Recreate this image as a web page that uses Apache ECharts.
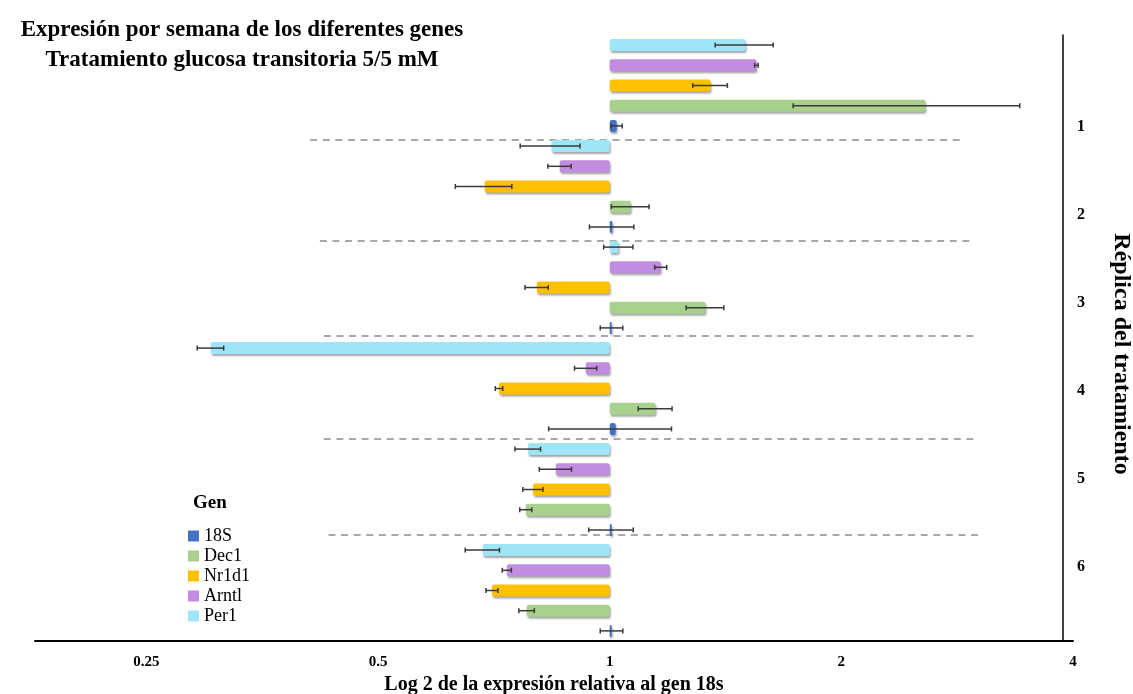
<!DOCTYPE html>
<html>
<head>
<meta charset="utf-8">
<script src="https://cdn.jsdelivr.net/npm/echarts@6/dist/echarts.min.js"></script>
<style>html,body{margin:0;padding:0;background:#fff}#c{width:1133px;height:694px}</style>
</head>
<body>
<div id="c"></div>
<script>
// ---------- data ----------
const replicates = ['1', '2', '3', '4', '5', '6'];
const genes = ['18S', 'Dec1', 'Nr1d1', 'Arntl', 'Per1'];          // legend order
const rowOrder = ['Per1', 'Arntl', 'Nr1d1', 'Dec1', '18S'];       // top to bottom inside a replicate
const geneColors = ['#4472C4', '#A9D18E', '#FFC000', '#C28CE0', '#9EE5F9'];

const s18 = [1.021, 1.008, 1.006, 1.018, 1.006, 1.006];
const s18Sd = [0.017, 0.067, 0.034, 0.185, 0.067, 0.034];
const dec1 = [2.571, 1.065, 1.332, 1.147, 0.778, 0.780];
const dec1Sd = [0.84, 0.06, 0.075, 0.058, 0.014, 0.018];
const nr1d1 = [1.352, 0.688, 0.804, 0.718, 0.795, 0.703];
const nr1d1Sd = [0.07, 0.058, 0.028, 0.008, 0.024, 0.0125];
const arntl = [1.551, 0.861, 1.165, 0.931, 0.851, 0.735];
const arntlSd = [0.008, 0.030, 0.021, 0.031, 0.041, 0.010];
const per1 = [1.501, 0.840, 1.027, 0.303, 0.783, 0.684];
const per1Sd = [0.13, 0.075, 0.045, 0.012, 0.030, 0.035];

const geneValues = [s18, dec1, nr1d1, arntl, per1];
const geneSds = [s18Sd, dec1Sd, nr1d1Sd, arntlSd, per1Sd];

const xTicks = [0.25, 0.5, 1, 2, 4];
// dashed separators between replicates: [x start, x end, row position]
const separators = [
  [0.408, 2.862, 4.70],
  [0.420, 2.949, 9.70],
  [0.425, 2.985, 14.40],
  [0.425, 2.985, 19.50],
  [0.431, 3.020, 24.25]
];

const titleText1 = 'Expresión por semana de los diferentes genes';
const titleText2 = 'Tratamiento glucosa transitoria 5/5 mM';
const xName = 'Log 2 de la expresión relativa al gen 18s';
const yName = 'Réplica del tratamiento';
const legendTitle = 'Gen';

// ---------- build ----------
const rows = [];
replicates.forEach(r => rowOrder.forEach(g => rows.push(r + '-' + g)));

const SERIF = 'Liberation Serif';

function barRender(params, api) {
  const val = api.value(0), idx = api.value(1), sd = api.value(2);
  const p0 = api.coord([1, idx]);
  const p1 = api.coord([val, idx]);
  const h = 12;
  const x0 = Math.min(p0[0], p1[0]);
  const w = Math.max(Math.abs(p1[0] - p0[0]), 1.5);
  const lo = api.coord([val - sd, idx]);
  const hi = api.coord([val + sd, idx]);
  const y = p1[1];
  const ec = '#3a3a3a';
  return {
    type: 'group',
    children: [
      {
        type: 'rect',
        shape: { x: x0, y: y - h / 2, width: w, height: h, r: 2 },
        style: {
          fill: api.visual('color'),
          shadowBlur: 2, shadowOffsetX: 1, shadowOffsetY: 2,
          shadowColor: 'rgba(0,0,0,0.35)'
        }
      },
      { type: 'line', shape: { x1: lo[0], y1: y, x2: hi[0], y2: y }, style: { stroke: ec, lineWidth: 1.5 } },
      { type: 'line', shape: { x1: lo[0], y1: y - 2.5, x2: lo[0], y2: y + 2.5 }, style: { stroke: ec, lineWidth: 1.5 } },
      { type: 'line', shape: { x1: hi[0], y1: y - 2.5, x2: hi[0], y2: y + 2.5 }, style: { stroke: ec, lineWidth: 1.5 } }
    ]
  };
}

const series = genes.map((g, gi) => ({
  name: g,
  type: 'custom',
  xAxisIndex: 0,
  yAxisIndex: 0,
  itemStyle: { color: geneColors[gi] },
  encode: { x: 0, y: 1 },
  renderItem: barRender,
  data: replicates.map((r, ri) => [geneValues[gi][ri], ri * 5 + rowOrder.indexOf(g), geneSds[gi][ri]]),
  z: 3
}));

series.push({
  name: 'sep',
  type: 'custom',
  xAxisIndex: 0,
  yAxisIndex: 2,
  silent: true,
  encode: { x: [0, 1], y: 2 },
  renderItem: function (params, api) {
    const a = api.coord([api.value(0), api.value(2)]);
    const b = api.coord([api.value(1), api.value(2)]);
    return {
      type: 'line',
      shape: { x1: a[0], y1: a[1], x2: b[0], y2: b[1] },
      style: { stroke: '#A8A8A8', lineWidth: 2, lineDash: [7, 5.6] }
    };
  },
  data: separators,
  z: 2
});

const chart = echarts.init(document.getElementById('c'), null, { renderer: 'canvas' });
chart.setOption({
  backgroundColor: '#fff',
  animation: false,
  legend: {
    data: genes,
    orient: 'vertical',
    left: 188,
    top: 527,
    padding: 0,
    icon: 'rect',
    itemWidth: 11,
    itemHeight: 11,
    itemGap: 2,
    textStyle: { fontFamily: SERIF, fontSize: 18, lineHeight: 18, color: '#000' }
  },
  graphic: [
    { type: 'text', x: 242, y: 30,
      style: { text: titleText1, font: 'bold 23px "Liberation Serif"', fill: '#000', align: 'center', verticalAlign: 'middle' } },
    { type: 'text', x: 242, y: 60,
      style: { text: titleText2, font: 'bold 23px "Liberation Serif"', fill: '#000', align: 'center', verticalAlign: 'middle' } },
    { type: 'text', x: 193, y: 503,
      style: { text: legendTitle, font: 'bold 19px "Liberation Serif"', fill: '#000', align: 'left', verticalAlign: 'middle' } },
    { type: 'text', x: 1121, y: 354, rotation: -Math.PI / 2,
      style: { text: yName, font: 'bold 24px "Liberation Serif"', fill: '#000', align: 'center', verticalAlign: 'middle' } }
  ],
  grid: { left: 35, right: 60, top: 35, bottom: 53, outerBoundsMode: 'none', containLabel: false },
  xAxis: {
    type: 'log',
    logBase: 2,
    min: 0.1791,
    max: 4,
    axisLine: { show: true, onZero: false, lineStyle: { color: '#000', width: 2 } },
    axisTick: { show: false },
    splitLine: { show: false },
    axisLabel: {
      customValues: xTicks,
      fontFamily: SERIF, fontWeight: 'bold', fontSize: 15, color: '#000', margin: 14,
      formatter: v => String(+(+v).toPrecision(3))
    },
    name: xName,
    nameLocation: 'middle',
    nameGap: 27,
    nameTextStyle: { fontFamily: SERIF, fontWeight: 'bold', fontSize: 20, color: '#000' }
  },
  yAxis: [
    { type: 'category', data: rows, inverse: true, show: false },
    {
      type: 'value', position: 'right', offset: -10,
      min: -0.045, max: 6.841, inverse: true,
      axisLine: { show: true, onZero: false, lineStyle: { color: '#000', width: 1.5 } },
      axisTick: { show: false },
      splitLine: { show: false },
      axisLabel: {
        customValues: replicates.map(Number),
        formatter: v => String(v),
        fontFamily: SERIF, fontWeight: 'bold', fontSize: 16, color: '#000', margin: 14
      }
    },
    { type: 'value', min: -0.5, max: 29.5, inverse: true, show: false }
  ],
  series: series
});
</script>
</body>
</html>
